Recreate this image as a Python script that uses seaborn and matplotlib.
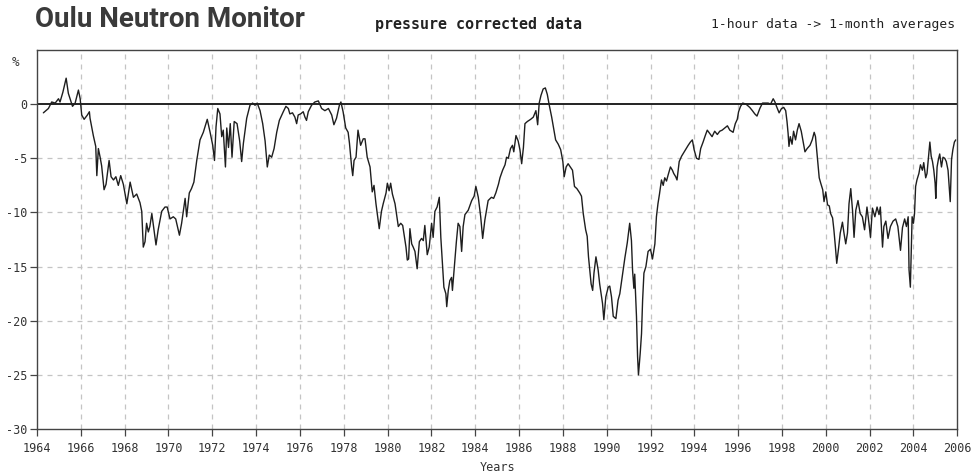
import matplotlib
matplotlib.use("Agg")
import matplotlib.pyplot as plt
import numpy as np
import pandas as pd
import seaborn as sns

# Oulu neutron monitor, pressure corrected monthly averages (% from reference level)
years = [
    1964.29, 1964.52, 1964.67, 1964.83, 1964.98, 1965.05, 1965.18, 1965.33, 1965.43, 1965.62,
    1965.74, 1965.89, 1965.97, 1966.04, 1966.15, 1966.30, 1966.39, 1966.42, 1966.57, 1966.68,
    1966.73, 1966.80, 1966.88, 1966.95, 1967.06, 1967.15, 1967.29, 1967.38, 1967.49, 1967.60,
    1967.71, 1967.82, 1967.94, 1968.10, 1968.25, 1968.40, 1968.55, 1968.70,
    1968.78, 1968.85, 1968.93, 1969.00, 1969.08, 1969.15, 1969.24, 1969.30, 1969.43, 1969.53,
    1969.69, 1969.84, 1969.94, 1970.07, 1970.22, 1970.33, 1970.50,
    1970.60, 1970.76, 1970.83, 1970.95, 1971.05, 1971.16, 1971.29, 1971.44, 1971.59, 1971.77,
    1971.90, 1972.02, 1972.10, 1972.17, 1972.25, 1972.35, 1972.43, 1972.50, 1972.60, 1972.66,
    1972.74, 1972.82, 1972.90, 1973.00, 1973.13, 1973.25, 1973.34, 1973.42, 1973.57, 1973.72,
    1973.84, 1973.95, 1974.05, 1974.18, 1974.30, 1974.41, 1974.51, 1974.60, 1974.71, 1974.82,
    1974.94, 1975.06, 1975.24, 1975.36, 1975.47, 1975.54, 1975.66, 1975.77, 1975.85, 1975.92,
    1976.03, 1976.15, 1976.23, 1976.30, 1976.38, 1976.53, 1976.68, 1976.84, 1976.99, 1977.14,
    1977.30, 1977.45, 1977.55, 1977.67, 1977.80, 1977.87, 1977.97, 1978.09, 1978.20,
    1978.26, 1978.36, 1978.41, 1978.47, 1978.56, 1978.65, 1978.77, 1978.89, 1978.97, 1979.07,
    1979.20, 1979.30, 1979.38, 1979.47, 1979.55, 1979.62, 1979.72, 1979.80, 1979.93, 1979.99,
    1980.07, 1980.14, 1980.22, 1980.34, 1980.41, 1980.49, 1980.60, 1980.69, 1980.75, 1980.84,
    1980.90, 1980.96, 1981.02, 1981.10, 1981.17, 1981.25, 1981.35, 1981.45, 1981.55, 1981.63,
    1981.70, 1981.81, 1981.90, 1982.01, 1982.08, 1982.16, 1982.26, 1982.36, 1982.43, 1982.51,
    1982.57, 1982.66, 1982.70, 1982.77, 1982.84, 1982.92, 1982.96, 1983.07, 1983.14, 1983.22,
    1983.30, 1983.38, 1983.45, 1983.53, 1983.68, 1983.84, 1983.95, 1984.03, 1984.14, 1984.25,
    1984.34, 1984.44, 1984.59, 1984.74, 1984.84, 1984.94,
    1985.06, 1985.13, 1985.25, 1985.36, 1985.43, 1985.51, 1985.61, 1985.70, 1985.76, 1985.86,
    1985.96, 1986.04, 1986.12, 1986.20, 1986.27, 1986.38, 1986.53, 1986.65, 1986.77, 1986.85,
    1986.92, 1987.00, 1987.10, 1987.20, 1987.29, 1987.38, 1987.49, 1987.56, 1987.67, 1987.79,
    1987.90, 1988.00, 1988.06, 1988.15, 1988.24, 1988.34, 1988.44, 1988.53, 1988.64, 1988.77,
    1988.85, 1988.93, 1989.04, 1989.11, 1989.17, 1989.23, 1989.29, 1989.36, 1989.42, 1989.51,
    1989.61, 1989.68, 1989.81, 1989.87, 1989.96, 1990.07, 1990.14, 1990.22, 1990.30, 1990.42,
    1990.52,
    1990.60, 1990.72, 1990.83, 1990.94, 1991.05, 1991.13, 1991.18, 1991.24, 1991.28, 1991.36,
    1991.41, 1991.45, 1991.53, 1991.59, 1991.64, 1991.70, 1991.79, 1991.89, 1992.00, 1992.09,
    1992.20, 1992.27, 1992.34, 1992.41, 1992.50, 1992.58, 1992.65, 1992.73, 1992.81, 1992.91,
    1993.00, 1993.06, 1993.15, 1993.21, 1993.31, 1993.42, 1993.57, 1993.72, 1993.82, 1993.91,
    1993.99, 1994.10, 1994.21, 1994.29, 1994.40, 1994.50, 1994.59, 1994.70, 1994.81, 1994.93,
    1995.05, 1995.16, 1995.27, 1995.39, 1995.51, 1995.62, 1995.77, 1995.87, 1995.96, 1996.02,
    1996.11, 1996.21, 1996.36,
    1996.53, 1996.65, 1996.76, 1996.86, 1996.99, 1997.11, 1997.22, 1997.37, 1997.48, 1997.60,
    1997.68, 1997.75, 1997.87, 1997.98, 1998.08, 1998.17, 1998.23, 1998.28, 1998.32, 1998.38,
    1998.46, 1998.53, 1998.62, 1998.70, 1998.78, 1998.88, 1998.96, 1999.05, 1999.15, 1999.28,
    1999.38, 1999.47, 1999.53, 1999.62, 1999.70, 1999.77, 1999.86, 1999.92, 2000.00, 2000.08,
    2000.16, 2000.22, 2000.31, 2000.37, 2000.44, 2000.50, 2000.59, 2000.66, 2000.76, 2000.83,
    2000.91, 2000.99, 2001.06, 2001.14, 2001.22, 2001.29, 2001.37, 2001.47,
    2001.57, 2001.67, 2001.77, 2001.88, 2001.97, 2002.04, 2002.13, 2002.24, 2002.34, 2002.43,
    2002.49, 2002.59, 2002.65, 2002.74, 2002.84, 2002.95, 2003.07, 2003.19, 2003.29, 2003.41,
    2003.50, 2003.60, 2003.68, 2003.76, 2003.80, 2003.86, 2003.90, 2003.94, 2004.00, 2004.05,
    2004.10, 2004.16, 2004.25, 2004.32, 2004.41, 2004.47, 2004.56, 2004.62, 2004.68, 2004.75,
    2004.81, 2004.87, 2004.93, 2004.99, 2005.02, 2005.08, 2005.14, 2005.20, 2005.28, 2005.35,
    2005.43, 2005.50, 2005.58, 2005.62, 2005.68, 2005.74, 2005.80, 2005.87, 2005.93,
]

counts = [
    -0.8, -0.4, 0.2, 0.1, 0.5, 0.2, 1.1, 2.4, 1.0, -0.2,
    0.1, 1.3, 0.5, -1.0, -1.4, -1.0, -0.7, -1.3, -2.9, -3.9,
    -6.6, -4.1, -4.9, -5.7, -7.9, -7.4, -5.2, -6.7, -7.0, -6.7,
    -7.5, -6.6, -7.4, -9.2, -7.2, -8.6, -8.3, -9.1,
    -9.9, -13.2, -12.7, -11.0, -11.8, -11.3, -10.1, -11.0, -13.0, -11.6,
    -9.9, -9.5, -9.5, -10.6, -10.4, -10.6, -12.1,
    -11.0, -8.7, -10.4, -8.2, -7.8, -7.2, -5.2, -3.3, -2.6, -1.4,
    -2.6, -3.8, -5.2, -2.1, -0.4, -0.9, -3.0, -2.4, -5.8, -2.2,
    -4.0, -1.8, -4.9, -1.6, -1.8, -3.4, -5.3, -3.6, -1.3, -0.1,
    0.1, -0.1, 0.1, -0.6, -1.8, -3.4, -5.8, -4.7, -4.9, -4.1,
    -2.6, -1.5, -0.7, -0.2, -0.4, -0.9, -0.8, -1.2, -1.8, -1.0,
    -0.9, -0.7, -1.2, -1.5, -0.7, -0.1, 0.2, 0.3, -0.4, -0.6,
    -0.4, -1.0, -1.9, -1.3, -0.1, 0.2, -0.7, -2.2, -2.6,
    -3.6, -5.8, -6.6, -5.2, -4.9, -2.4, -3.8, -3.2, -3.2, -4.9,
    -5.8, -8.1, -7.5, -9.2, -10.4, -11.5, -9.9, -9.2, -8.2, -7.3,
    -8.0, -7.3, -8.3, -9.2, -10.2, -11.3, -11.0, -11.2, -12.0, -13.2,
    -14.4, -14.3, -11.5, -12.9, -13.2, -13.6, -15.2, -12.7, -12.4, -12.6,
    -11.2, -13.9, -13.2, -11.0, -12.3, -9.9, -9.5, -8.6, -12.3, -15.0,
    -16.9, -17.5, -18.7, -17.2, -16.3, -16.0, -17.2, -14.4, -12.7, -11.0,
    -11.3, -13.6, -11.3, -10.2, -9.8, -8.9, -8.5, -7.6, -8.6, -10.4,
    -12.4, -10.7, -8.9, -8.6, -8.7, -8.2,
    -7.4, -6.8, -6.1, -5.6, -4.9, -5.0, -4.1, -3.8, -4.4, -2.9,
    -3.4, -4.2, -5.5, -4.0, -1.8, -1.6, -1.4, -1.2, -0.6, -1.9,
    0.1, 0.8, 1.4, 1.5, 0.9, -0.1, -1.2, -2.0, -3.3, -3.7,
    -4.2, -5.3, -6.7, -5.8, -5.5, -5.8, -6.1, -7.6, -7.8, -8.2,
    -8.5, -10.1, -11.6, -12.2, -14.1, -15.3, -16.6, -17.2, -15.6, -14.1,
    -15.3, -16.6, -18.4, -19.9, -17.8, -16.9, -16.8, -17.8, -19.6, -19.8,
    -18.1,
    -17.5, -15.8, -14.2, -12.8, -11.0, -12.6, -15.3, -17.0, -15.7, -19.6,
    -23.3, -25.0, -23.0, -21.2, -18.1, -15.6, -15.0, -13.6, -13.4, -14.3,
    -12.9, -10.4, -9.2, -8.3, -7.0, -7.5, -6.8, -7.1, -6.5, -5.8,
    -6.1, -6.4, -6.7, -7.0, -5.3, -4.8, -4.3, -3.8, -3.5, -3.3,
    -4.2, -5.0, -5.1, -4.1, -3.5, -2.9, -2.4, -2.7, -3.0, -2.5,
    -2.8, -2.5, -2.4, -2.2, -2.0, -2.4, -2.6, -1.8, -1.4, -0.7,
    -0.2, 0.1, 0.0,
    -0.3, -0.6, -0.9, -1.1, -0.4, 0.1, 0.1, 0.1, 0.0, 0.5,
    0.2, -0.2, -0.8, -0.4, -0.3, -0.6, -1.6, -2.7, -3.9, -3.0,
    -3.7, -2.5, -3.3, -2.4, -1.8, -2.5, -3.4, -4.4, -4.1, -3.8,
    -3.3, -2.6, -3.0, -5.0, -6.8, -7.3, -7.9, -9.0, -8.1, -9.3,
    -9.4, -10.1, -10.5, -11.6, -13.2, -14.7, -13.2, -11.9, -10.9, -11.9,
    -12.9, -11.9, -9.2, -7.8, -9.8, -12.3, -9.8, -8.9,
    -10.1, -10.4, -11.6, -9.5, -11.0, -12.3, -9.6, -10.4, -9.5, -10.2,
    -9.5, -13.2, -11.3, -10.8, -12.4, -11.3, -10.8, -10.6, -11.3, -13.5,
    -11.4, -10.6, -11.3, -10.4, -15.3, -16.9, -13.8, -10.4, -11.0, -10.1,
    -7.6, -7.0, -6.4, -5.6, -6.1, -5.4, -6.8, -6.4, -5.1, -3.5,
    -4.8, -5.3, -6.1, -7.3, -8.7, -5.8, -5.1, -4.6, -5.8, -4.9,
    -5.0, -5.3, -6.1, -7.3, -9.0, -5.1, -4.2, -3.5, -3.3,
]

x_ticks = list(range(1964, 2007, 2))
y_ticks = [-30, -25, -20, -15, -10, -5, 0]

df = pd.DataFrame({"Years": years, "Rate": counts})

sns.set_style("white")
plt.rcParams["font.family"] = ["DejaVu Sans Mono", "DejaVu Sans"]

TEXT = "#333333"

fig = plt.figure(figsize=(9.74, 4.75), dpi=100)
ax = fig.add_axes([0.038, 0.0968, 0.9448, 0.7979])

ax.set_xlim(1964, 2006)
ax.set_ylim(-30, 5)

# dashed background grid
for xv in x_ticks[1:-1]:
    ax.axvline(xv, color="#c4c4c4", lw=0.9, ls=(0, (4, 4)), zorder=0)
for yv in y_ticks[1:-1]:
    ax.axhline(yv, color="#c4c4c4", lw=0.9, ls=(0, (4, 4)), zorder=0)
ax.axhline(0, color="#111111", lw=1.3, zorder=1)

sns.lineplot(data=df, x="Years", y="Rate", ax=ax, color="#1e1e1e",
             linewidth=1.0, sort=False, zorder=2)

ax.set_xticks(x_ticks)
ax.set_xticklabels([str(v) for v in x_ticks])
ax.set_yticks(y_ticks)
ax.set_yticklabels([str(v) for v in y_ticks])
ax.tick_params(axis="both", direction="out", length=5, width=0.9,
               colors="#444444", labelcolor=TEXT, labelsize=8.5)
ax.tick_params(axis="x", bottom=True, pad=4)
ax.tick_params(axis="y", left=True, pad=2)

for sp in ax.spines.values():
    sp.set_visible(True)
    sp.set_color("#444444")
    sp.set_linewidth(1.0)

ax.set_xlabel("Years", fontsize=8.5, color=TEXT, labelpad=5)
ax.set_ylabel("")
fig.text(0.0155, 0.868, "%", fontsize=9, color=TEXT, ha="center", va="center")

fig.text(0.036, 0.958, "Oulu Neutron Monitor", fontsize=20, fontweight="bold",
         color="#3a3a3a", ha="left", va="center",
         family=["Roboto", "DejaVu Sans"])
fig.text(0.385, 0.948, "pressure corrected data", fontsize=10.8, fontweight="bold",
         color="#222222", ha="left", va="center")
fig.text(0.981, 0.948, "1-hour data -> 1-month averages", fontsize=9.4,
         color="#222222", ha="right", va="center")

fig.savefig("out.png", dpi=100, facecolor="white")
